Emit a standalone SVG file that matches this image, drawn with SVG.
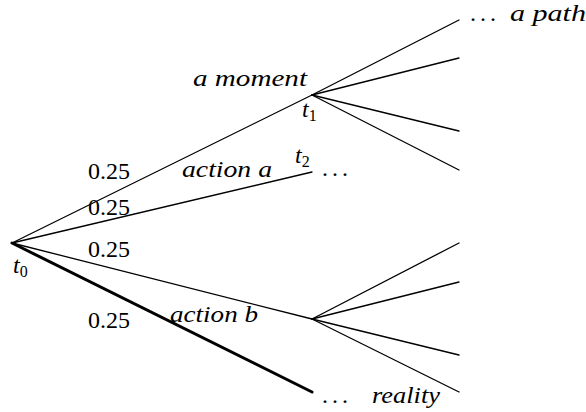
<svg xmlns="http://www.w3.org/2000/svg" width="586" height="412" viewBox="0 0 586 412">
<rect width="586" height="412" fill="#fff"/>
<g id="connectors" stroke="#000" stroke-width="1.3" fill="none" stroke-linecap="round">
<line x1="12" y1="243" x2="312" y2="95"/>
<line x1="12" y1="243" x2="312" y2="172"/>
<line x1="12" y1="243" x2="312" y2="319"/>
<line x1="12" y1="243" x2="312" y2="392" stroke-width="3"/>
<line x1="312" y1="95" x2="459" y2="20"/>
<line x1="312" y1="95" x2="459" y2="58"/>
<line x1="312" y1="95" x2="459" y2="131"/>
<line x1="312" y1="95" x2="459" y2="170"/>
<line x1="312" y1="319" x2="459" y2="243"/>
<line x1="312" y1="319" x2="459" y2="282"/>
<line x1="312" y1="319" x2="459" y2="355"/>
<line x1="312" y1="319" x2="459" y2="392"/>
</g>
<g id="t0"><text x="13" y="273" font-family="Times New Roman" font-size="24" font-style="italic">t<tspan font-size="16" font-style="normal" dy="4">0</tspan></text></g>
<g id="t1"><text x="302" y="117" font-family="Times New Roman" font-size="24" font-style="italic">t<tspan font-size="16" font-style="normal" dy="4">1</tspan></text></g>
<g id="t2"><text x="295" y="163" font-family="Times New Roman" font-size="24" font-style="italic">t<tspan font-size="16" font-style="normal" dy="4">2</tspan></text>
<text x="322" y="176" font-family="Times New Roman" font-size="24" letter-spacing="4">...</text></g>
<g id="labels">
<text x="193" y="86" font-family="Times New Roman" font-size="24" font-style="italic" textLength="114" lengthAdjust="spacingAndGlyphs">a moment</text>
<text x="182" y="177" font-family="Times New Roman" font-size="24" font-style="italic" textLength="90" lengthAdjust="spacingAndGlyphs">action a</text>
<text x="170" y="322" font-family="Times New Roman" font-size="24" font-style="italic" textLength="88" lengthAdjust="spacingAndGlyphs">action b</text>
<text x="88" y="179" font-family="Times New Roman" font-size="24">0.25</text>
<text x="88" y="215" font-family="Times New Roman" font-size="24">0.25</text>
<text x="88" y="257" font-family="Times New Roman" font-size="24">0.25</text>
<text x="88" y="328" font-family="Times New Roman" font-size="24">0.25</text>
<text x="470" y="21" font-family="Times New Roman" font-size="24" letter-spacing="4">...</text>
<text x="510" y="21" font-family="Times New Roman" font-size="24" font-style="italic" textLength="76" lengthAdjust="spacingAndGlyphs">a path</text>
<text x="322" y="403" font-family="Times New Roman" font-size="24" letter-spacing="4">...</text>
<text x="372" y="403" font-family="Times New Roman" font-size="24" font-style="italic" textLength="68" lengthAdjust="spacingAndGlyphs">reality</text>
</g>
</svg>
